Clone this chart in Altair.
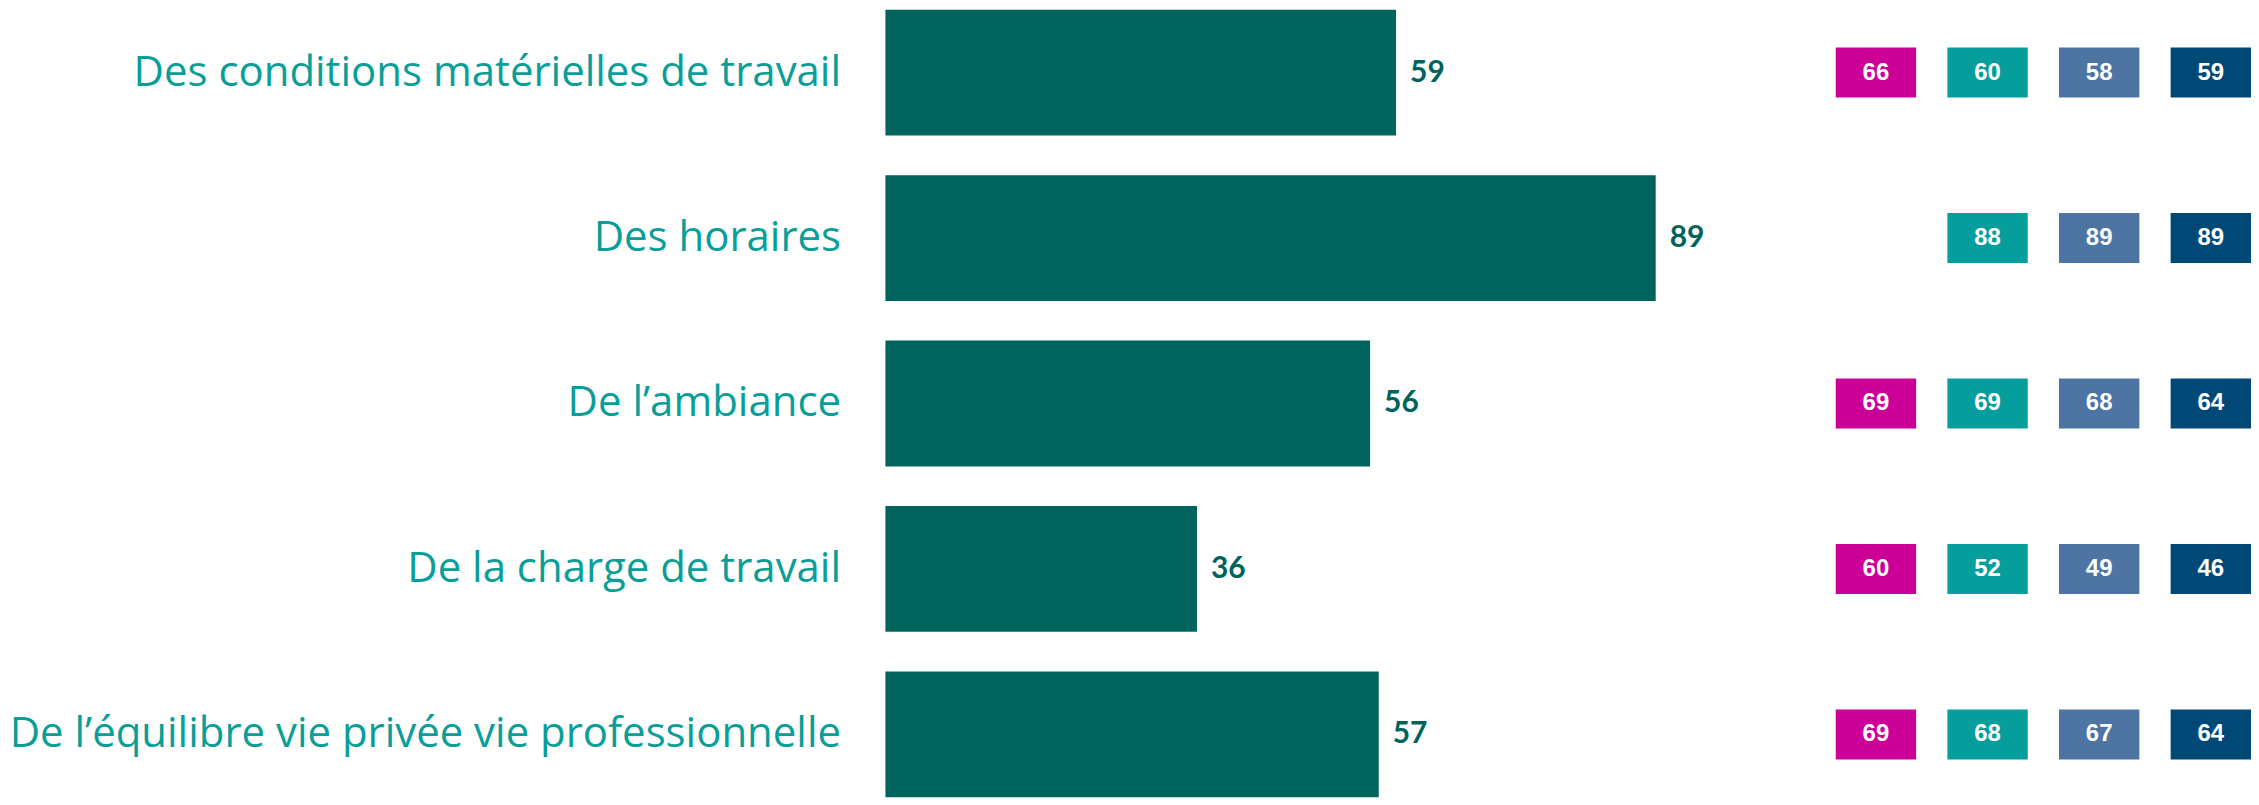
import altair as alt
import pandas as pd

categories = [
    "Des conditions matérielles de travail",
    "Des horaires",
    "De l’ambiance",
    "De la charge de travail",
    "De l’équilibre vie privée vie professionnelle",
]
main_values = [59, 89, 56, 36, 57]

series = ["S1", "S2", "S3", "S4"]
series_colors = ["#CC0099", "#059E9C", "#4D74A3", "#004876"]
s1_values = [66, None, 69, 60, 69]
s2_values = [60, 88, 69, 52, 68]
s3_values = [58, 89, 68, 49, 67]
s4_values = [59, 89, 64, 46, 64]

bar_df = pd.DataFrame({"cat": categories, "val": main_values})

rows = []
for s, vals in zip(series, [s1_values, s2_values, s3_values, s4_values]):
    for c, v in zip(categories, vals):
        if v is not None:
            rows.append({"cat": c, "series": s, "val": v})
box_df = pd.DataFrame(rows)

H = 789
pi_a = 0.2398
pi_b = 0.698
po_b = (pi_b - pi_a) / 2

y_a = alt.Y(
    "cat:N",
    sort=categories,
    scale=alt.Scale(paddingInner=pi_a, paddingOuter=0),
    axis=alt.Axis(
        title=None, ticks=False, domain=False, labelPadding=45,
        labelFont="Open Sans", labelFontSize=42, labelColor="#0A9E98",
        labelLimit=1000, minExtent=878, maxExtent=878, labelAlign="right",
    ),
)

bars = alt.Chart(bar_df).mark_bar(color="#00645C").encode(
    x=alt.X("val:Q", scale=alt.Scale(domain=[0, 100]), axis=None),
    y=y_a,
)
bar_text = alt.Chart(bar_df).mark_text(
    align="left", baseline="middle", dx=14, font="Lato", fontWeight="bold",
    fontSize=30, color="#00645C",
).encode(
    x=alt.X("val:Q", scale=alt.Scale(domain=[0, 100]), axis=None),
    y=y_a,
    text="val:Q",
)
left = (bars + bar_text).properties(width=867, height=H)

y_b = alt.Y(
    "cat:N", sort=categories,
    scale=alt.Scale(paddingInner=pi_b, paddingOuter=po_b), axis=None,
)
x_b = alt.X(
    "series:N", sort=series,
    scale=alt.Scale(paddingInner=0.28, paddingOuter=0), axis=None,
)
boxes = alt.Chart(box_df).mark_rect().encode(
    x=x_b, y=y_b,
    color=alt.Color("series:N", scale=alt.Scale(domain=series, range=series_colors), legend=None),
)
box_text = alt.Chart(box_df).mark_text(
    align="center", baseline="middle", font="Liberation Sans", fontWeight="bold",
    fontSize=24, color="white",
).encode(x=x_b, y=y_b, text="val:Q")
right = (boxes + box_text).properties(width=416, height=H)

chart = alt.hconcat(left, right, spacing=85).properties(padding=0).configure_view(stroke=None)

chart.save("out.html", embed_options={"renderer": "svg", "actions": False})
